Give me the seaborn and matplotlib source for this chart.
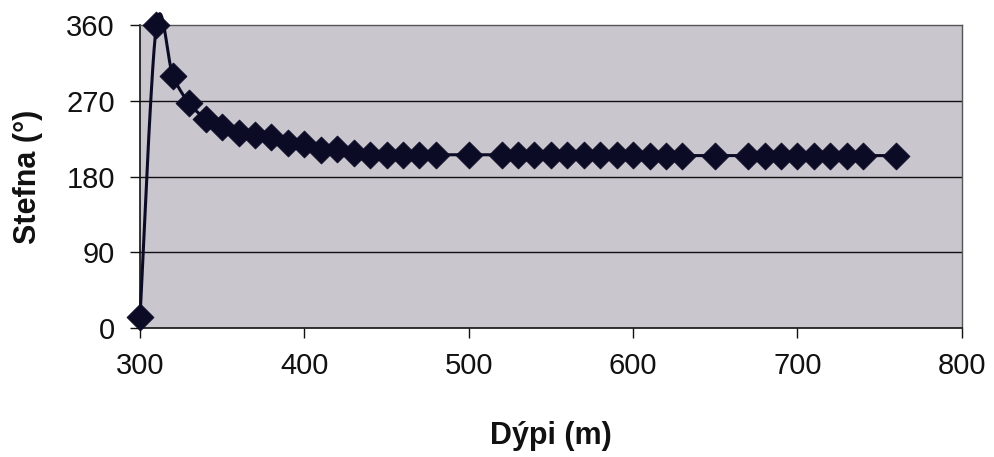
import numpy as np
import pandas as pd
import matplotlib
matplotlib.use("Agg")
import matplotlib.pyplot as plt
import seaborn as sns

# Depth (m) and direction (degrees) readings
depth = [300, 310, 320, 330, 340, 350, 360, 370, 380, 390, 400, 410, 420, 430,
         440, 450, 460, 470, 480, 500, 520, 530, 540, 550, 560, 570, 580, 590,
         600, 610, 620, 630, 650, 670, 680, 690, 700, 710, 720, 730, 740, 760]
direction = [13, 360, 300, 267, 249, 239, 232, 230, 227, 220, 219, 212, 213, 208,
             206, 206, 206, 206, 206, 206, 206, 206, 206, 206, 206, 206, 206, 206,
             206, 205, 205, 205, 205, 205, 205, 205, 205, 205, 205, 205, 205, 205]

x_ticks = [300, 400, 500, 600, 700, 800]
y_ticks = [0, 90, 180, 270, 360]
x_label = "Dýpi (m)"
y_label = "Stefna (°)"


def smooth_curve(xs, ys, steps=30):
    """Piecewise cubic Bezier through the points (spreadsheet-style smoothing)."""
    p = np.column_stack([xs, ys]).astype(float)
    n = len(p)
    out = [p[0]]
    t = np.linspace(0, 1, steps)[1:, None]
    for i in range(n - 1):
        p0 = p[i - 1] if i > 0 else p[i]
        p1, p2 = p[i], p[i + 1]
        p3 = p[i + 2] if i + 2 < n else p[i + 1]
        c1 = p1 + (p2 - p0) / 6.0
        c2 = p2 - (p3 - p1) / 6.0
        seg = ((1 - t) ** 3) * p1 + 3 * ((1 - t) ** 2) * t * c1 \
            + 3 * (1 - t) * t ** 2 * c2 + t ** 3 * p2
        out.extend(seg)
    out = np.array(out)
    return out[:, 0], out[:, 1]


sns.set_theme(style="white")
plt.rcParams["font.family"] = ["Liberation Sans", "DejaVu Sans"]

fig = plt.figure(figsize=(9.95, 4.57), dpi=100)
ax = fig.add_axes([0.1407, 0.282, 0.826, 0.663])
ax.set_facecolor("#c9c6ce")

cx, cy = smooth_curve(depth, direction)
curve = pd.DataFrame({"depth": cx, "direction": cy})
points = pd.DataFrame({"depth": depth, "direction": direction})

ink = "#0b0b26"
sns.lineplot(data=curve, x="depth", y="direction", sort=False, estimator=None,
             color=ink, linewidth=2.2, ax=ax, clip_on=False, zorder=3)
sns.scatterplot(data=points, x="depth", y="direction", marker="D", s=190,
                color=ink, edgecolor=ink, linewidth=0.5, ax=ax,
                clip_on=False, zorder=4)

ax.set_xlim(300, 800)
ax.set_ylim(0, 360)
ax.set_xticks(x_ticks)
ax.set_yticks(y_ticks)
ax.set_xticklabels([str(v) for v in x_ticks])
ax.set_yticklabels([str(v) for v in y_ticks])

for v in y_ticks[1:-1]:
    ax.axhline(v, color="#111111", linewidth=1.0, zorder=1)

for side in ("left", "bottom"):
    ax.spines[side].set_color("#111111")
    ax.spines[side].set_linewidth(1.2)
for side in ("top", "right"):
    ax.spines[side].set_color("#555555")
    ax.spines[side].set_linewidth(1.0)

ax.tick_params(axis="both", which="major", direction="out", length=7,
               width=1.0, color="#111111", labelsize=21, labelcolor="#111111",
               bottom=True, left=True)
ax.tick_params(axis="y", pad=11)
ax.tick_params(axis="x", pad=10)

ax.set_xlabel(x_label, fontsize=22, fontweight="bold", color="#111111",
              labelpad=30)
ax.set_ylabel(y_label, fontsize=22, fontweight="bold", color="#111111",
              labelpad=17)

fig.savefig("out.png", dpi=100, facecolor="white")
